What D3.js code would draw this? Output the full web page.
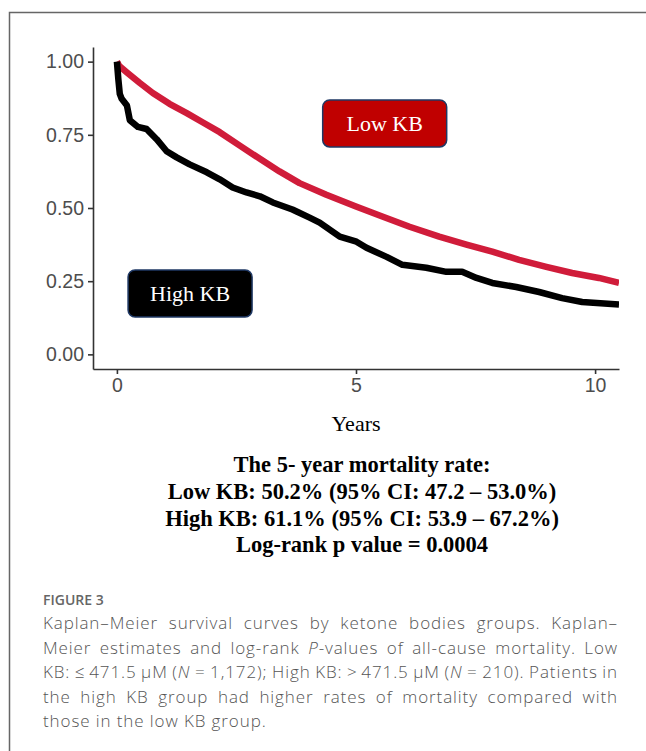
<!DOCTYPE html>
<html>
<head>
<meta charset="utf-8">
<script src="https://cdn.jsdelivr.net/npm/d3@7"></script>
<style>
  html, body { margin: 0; padding: 0; background: #fff; }
  svg { display: block; }
</style>
</head>
<body>
<div id="chart"></div>
<script>
// ---------------- DATA ----------------
const xTicks = [0, 5, 10];
const yTicks = [0, 0.25, 0.5, 0.75, 1.0];

// Low KB group (red) - Kaplan–Meier survival estimates
const lowKBTime = [0, 0.05, 0.21, 0.48, 0.75, 1.1, 1.46, 1.8, 2.15, 2.57, 2.99, 3.4, 3.82, 4.38, 5.0, 5.55, 6.12, 6.74, 7.31, 7.85, 8.41, 8.98, 9.52, 10.08, 10.5];
const lowKBSurv = [1.0, 0.985, 0.963, 0.927, 0.893, 0.856, 0.824, 0.792, 0.759, 0.713, 0.668, 0.625, 0.585, 0.545, 0.505, 0.471, 0.436, 0.402, 0.375, 0.351, 0.323, 0.299, 0.278, 0.261, 0.244];

// High KB group (black)
const highKBTime = [0, 0.03, 0.06, 0.1, 0.21, 0.27, 0.44, 0.62, 0.83, 1.04, 1.25, 1.52, 1.88, 2.15, 2.42, 2.71, 2.99, 3.26, 3.67, 4.03, 4.24, 4.66, 5.01, 5.22, 5.64, 5.97, 6.47, 6.89, 7.22, 7.52, 7.85, 8.35, 8.83, 9.31, 9.73, 10.5];
const highKBSurv = [1.0, 0.94, 0.89, 0.873, 0.85, 0.80, 0.777, 0.77, 0.735, 0.694, 0.673, 0.649, 0.622, 0.598, 0.57, 0.553, 0.54, 0.519, 0.495, 0.467, 0.45, 0.402, 0.385, 0.364, 0.333, 0.306, 0.296, 0.282, 0.282, 0.261, 0.244, 0.23, 0.213, 0.192, 0.179, 0.17];

const groupLabels = ["Low KB", "High KB"];
const labelPos = [[5.6, 0.789], [1.53, 0.208]]; // [years, survival] centres of the label boxes

const xTitle = "Years";
const statsLines = [
  "The 5- year mortality rate:",
  "Low KB: 50.2% (95% CI: 47.2 – 53.0%)",
  "High KB: 61.1% (95% CI: 53.9 – 67.2%)",
  "Log-rank p value = 0.0004"
];
const figureLabel = "FIGURE 3";
const captionLines = [
  [["Kaplan–Meier survival curves by ketone bodies groups. Kaplan–", false]],
  [["Meier estimates and log-rank ", false], ["P", true], ["-values of all-cause mortality. Low", false]],
  [["KB: ≤\u2009471.5 μM (", false], ["N", true], [" = 1,172); High KB: >\u2009471.5 μM (", false], ["N", true], [" = 210). Patients in", false]],
  [["the high KB group had higher rates of mortality compared with", false]],
  [["those in the low KB group.", false]]
];

// ---------------- DRAW ----------------
const W = 646, H = 751;
const svg = d3.select("#chart").append("svg").attr("width", W).attr("height", H);

// frame
svg.append("path")
  .attr("d", "M9.5,751 V12.5 H646")
  .attr("fill", "none").attr("stroke", "#666").attr("stroke-width", 1.5);

const x = d3.scaleLinear().domain([-0.5, 10.5]).range([93, 619]);
const y = d3.scaleLinear().domain([-0.05, 1.05]).range([369, 47]);

svg.append("defs").append("clipPath").attr("id", "plotclip")
  .append("rect").attr("x", 93).attr("y", 40).attr("width", 526).attr("height", 329);

const line = d3.line().x(d => x(d[0])).y(d => y(d[1])).curve(d3.curveLinear);

const lowData = lowKBTime.map((t, i) => [t, lowKBSurv[i]]);
const highData = highKBTime.map((t, i) => [t, highKBSurv[i]]);

const curves = svg.append("g").attr("clip-path", "url(#plotclip)");
curves.append("path").datum(lowData).attr("d", line)
  .attr("fill", "none").attr("stroke", "#d01c3a").attr("stroke-width", 6.5)
  .attr("stroke-linejoin", "round");
curves.append("path").datum(highData).attr("d", line)
  .attr("fill", "none").attr("stroke", "#000").attr("stroke-width", 6.5)
  .attr("stroke-linejoin", "round");

// axes
const axisFont = "'Liberation Sans', Arial, sans-serif";
const gx = svg.append("g").attr("transform", "translate(0,369)")
  .call(d3.axisBottom(x).tickValues(xTicks).tickFormat(d3.format("d")).tickSize(5).tickSizeOuter(0).tickPadding(4));
const gy = svg.append("g").attr("transform", "translate(93,0)")
  .call(d3.axisLeft(y).tickValues(yTicks).tickFormat(d3.format(".2f")).tickSize(5).tickSizeOuter(0).tickPadding(4));
[gx, gy].forEach(g => {
  g.select(".domain").attr("stroke", "#333").attr("stroke-width", 1.6);
  g.selectAll(".tick line").attr("stroke", "#333").attr("stroke-width", 1.6);
  g.selectAll(".tick text").attr("fill", "#4d4d4d").style("font-family", axisFont).style("font-size", "19.5px");
});

// label boxes
const boxFill = ["#c00000", "#000000"];
const boxW = 124, boxH = 47;
groupLabels.forEach((lab, i) => {
  const cx = x(labelPos[i][0]), cy = y(labelPos[i][1]);
  svg.append("rect")
    .attr("x", cx - boxW / 2).attr("y", cy - boxH / 2)
    .attr("width", boxW).attr("height", boxH).attr("rx", 7)
    .attr("fill", boxFill[i]).attr("stroke", "#1f3864").attr("stroke-width", 1.5);
  svg.append("text")
    .attr("x", cx).attr("y", cy + 8)
    .attr("text-anchor", "middle")
    .style("font-family", "'Liberation Serif', 'Times New Roman', serif")
    .style("font-size", "22px").attr("fill", "#fff")
    .text(lab);
});

// x title
svg.append("text").attr("x", 356).attr("y", 431).attr("text-anchor", "middle")
  .style("font-family", "'Liberation Serif', 'Times New Roman', serif")
  .style("font-size", "22px").attr("fill", "#000").text(xTitle);

// stats
const statsY = [472, 499, 526, 552];
statsLines.forEach((s, i) => {
  svg.append("text").attr("x", 362).attr("y", statsY[i]).attr("text-anchor", "middle")
    .style("font-family", "'Liberation Serif', 'Times New Roman', serif")
    .style("font-weight", "bold").style("font-size", "22.5px").attr("fill", "#000")
    .text(s);
});

// caption
svg.append("text").attr("x", 43).attr("y", 605)
  .style("font-family", "'Open Sans', sans-serif").style("font-weight", 600)
  .style("font-size", "14px").attr("fill", "#666").text(figureLabel);

const capX = 43, capW = 575, capY0 = 629, capDy = 24.6;
captionLines.forEach((parts, i) => {
  const t = svg.append("text").attr("x", capX).attr("y", capY0 + i * capDy)
    .style("font-family", "'Open Sans', sans-serif").style("font-weight", 300)
    .style("font-size", "17px").style("letter-spacing", "0.9px").attr("fill", "#555");
  parts.forEach(p => {
    t.append("tspan").style("font-style", p[1] ? "italic" : "normal").text(p[0]);
  });
  if (i < captionLines.length - 1) {
    const full = parts.map(p => p[0]).join("");
    const nSpaces = (full.match(/ /g) || []).length;
    const len = t.node().getComputedTextLength();
    if (nSpaces > 0) t.style("word-spacing", ((capW - len) / nSpaces) + "px");
  }
});
</script>
</body>
</html>
